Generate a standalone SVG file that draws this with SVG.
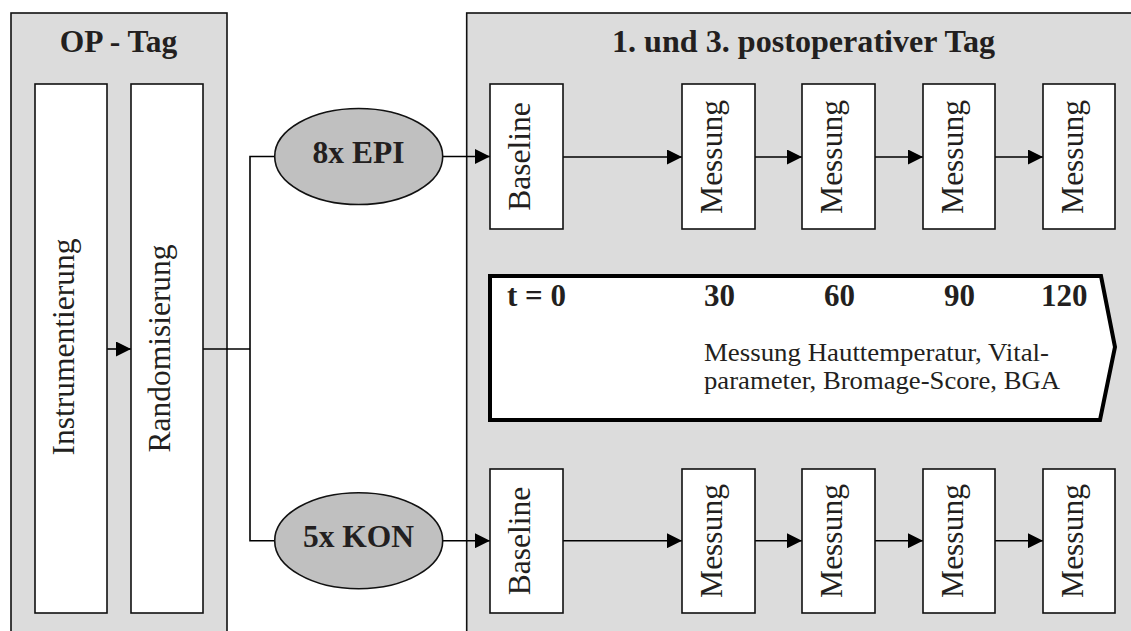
<svg xmlns="http://www.w3.org/2000/svg" width="1131" height="631" viewBox="0 0 1131 631">
<style>
.panel{fill:#dcdcdc;stroke:#111;stroke-width:1.6}
.box{fill:#fff;stroke:#111;stroke-width:1.6}
.ell{fill:#c0c0c0;stroke:#111;stroke-width:1.6}
.tl{fill:#fff;stroke:#000;stroke-width:4;stroke-linejoin:miter}
.con{fill:none;stroke:#000;stroke-width:1.6}
.arr{fill:none;stroke:#000;stroke-width:1.6;marker-end:url(#ah)}
text{font-family:"Liberation Serif","Times New Roman",serif;fill:#231f20}
.h{font-size:31.5px;font-weight:bold}
.v{font-size:31.5px;text-anchor:middle}
.n{font-size:31px;font-weight:bold}
.d{font-size:25px}
</style>
<defs>
<marker id="ah" markerUnits="userSpaceOnUse" markerWidth="15" markerHeight="15" refX="15" refY="7.5" orient="auto">
<path d="M0,0 L15,7.5 L0,15 z" fill="#000"/>
</marker>
</defs>
<g id="panel-op">
<rect class="panel" x="11" y="13" width="216" height="640"/>
<text class="h" x="118.5" y="52" text-anchor="middle">OP - Tag</text>
</g>
<g id="panel-post">
<rect class="panel" x="466.7" y="13" width="700" height="640"/>
<text class="h" x="803.5" y="52" text-anchor="middle" textLength="383" lengthAdjust="spacingAndGlyphs">1. und 3. postoperativer Tag</text>
</g>
<g id="connectors">
<line class="arr" x1="107" y1="349" x2="131" y2="349"/>
<polyline class="con" points="203,349 250,349"/>
<polyline class="con" points="274.7,156.5 250,156.5 250,540.7 274.7,540.7"/>
<line class="arr" x1="442.7" y1="156.5" x2="490" y2="156.5"/>
<line class="arr" x1="442.7" y1="540.7" x2="490" y2="540.7"/>
<line class="arr" x1="563" y1="157" x2="682" y2="157"/>
<line class="arr" x1="755" y1="157" x2="802" y2="157"/>
<line class="arr" x1="875" y1="157" x2="923" y2="157"/>
<line class="arr" x1="995" y1="157" x2="1043" y2="157"/>
<line class="arr" x1="563" y1="540.7" x2="682" y2="540.7"/>
<line class="arr" x1="755" y1="540.7" x2="802" y2="540.7"/>
<line class="arr" x1="875" y1="540.7" x2="923" y2="540.7"/>
<line class="arr" x1="995" y1="540.7" x2="1043" y2="540.7"/>
</g>
<g id="instrumentierung">
<rect class="box" x="35" y="84" width="72" height="529"/>
<text class="v" transform="translate(74,347) rotate(-90)">Instrumentierung</text>
</g>
<g id="randomisierung">
<rect class="box" x="131" y="84" width="72" height="529"/>
<text class="v" transform="translate(170,348.5) rotate(-90)">Randomisierung</text>
</g>
<g id="epi">
<ellipse class="ell" cx="358.7" cy="156.5" rx="84" ry="48"/>
<text class="h" x="358.5" y="163" text-anchor="middle">8x EPI</text>
</g>
<g id="kon">
<ellipse class="ell" cx="358.7" cy="540.7" rx="84" ry="48"/>
<text class="h" x="358.5" y="546.7" text-anchor="middle">5x KON</text>
</g>
<g id="epi-baseline">
<rect class="box" x="490" y="84" width="73" height="145"/>
<text class="v" transform="translate(530,156.5) rotate(-90)">Baseline</text>
</g>
<g id="epi-m1">
<rect class="box" x="682" y="84" width="73" height="145"/>
<text class="v" transform="translate(722,157) rotate(-90)">Messung</text>
</g>
<g id="epi-m2">
<rect class="box" x="802" y="84" width="73" height="145"/>
<text class="v" transform="translate(842,157) rotate(-90)">Messung</text>
</g>
<g id="epi-m3">
<rect class="box" x="923" y="84" width="72" height="145"/>
<text class="v" transform="translate(962.5,157) rotate(-90)">Messung</text>
</g>
<g id="epi-m4">
<rect class="box" x="1043" y="84" width="72" height="145"/>
<text class="v" transform="translate(1082.5,157) rotate(-90)">Messung</text>
</g>
<g id="timeline">
<polygon class="tl" points="490,276 1101,276 1115,347 1100,420 490,420"/>
<text class="n" x="507" y="306">t = 0</text>
<text class="n" x="704" y="306">30</text>
<text class="n" x="824" y="306">60</text>
<text class="n" x="944" y="306">90</text>
<text class="n" x="1041" y="306">120</text>
<text class="d" x="704" y="361" textLength="345" lengthAdjust="spacingAndGlyphs">Messung Hauttemperatur, Vital-</text>
<text class="d" x="704" y="389" textLength="356" lengthAdjust="spacingAndGlyphs">parameter, Bromage-Score, BGA</text>
</g>
<g id="kon-baseline">
<rect class="box" x="490" y="469" width="73" height="144"/>
<text class="v" transform="translate(530,541) rotate(-90)">Baseline</text>
</g>
<g id="kon-m1">
<rect class="box" x="682" y="469" width="73" height="144"/>
<text class="v" transform="translate(722,541) rotate(-90)">Messung</text>
</g>
<g id="kon-m2">
<rect class="box" x="802" y="469" width="73" height="144"/>
<text class="v" transform="translate(842,541) rotate(-90)">Messung</text>
</g>
<g id="kon-m3">
<rect class="box" x="923" y="469" width="72" height="144"/>
<text class="v" transform="translate(962.5,541) rotate(-90)">Messung</text>
</g>
<g id="kon-m4">
<rect class="box" x="1043" y="469" width="72" height="144"/>
<text class="v" transform="translate(1082.5,541) rotate(-90)">Messung</text>
</g>
</svg>
